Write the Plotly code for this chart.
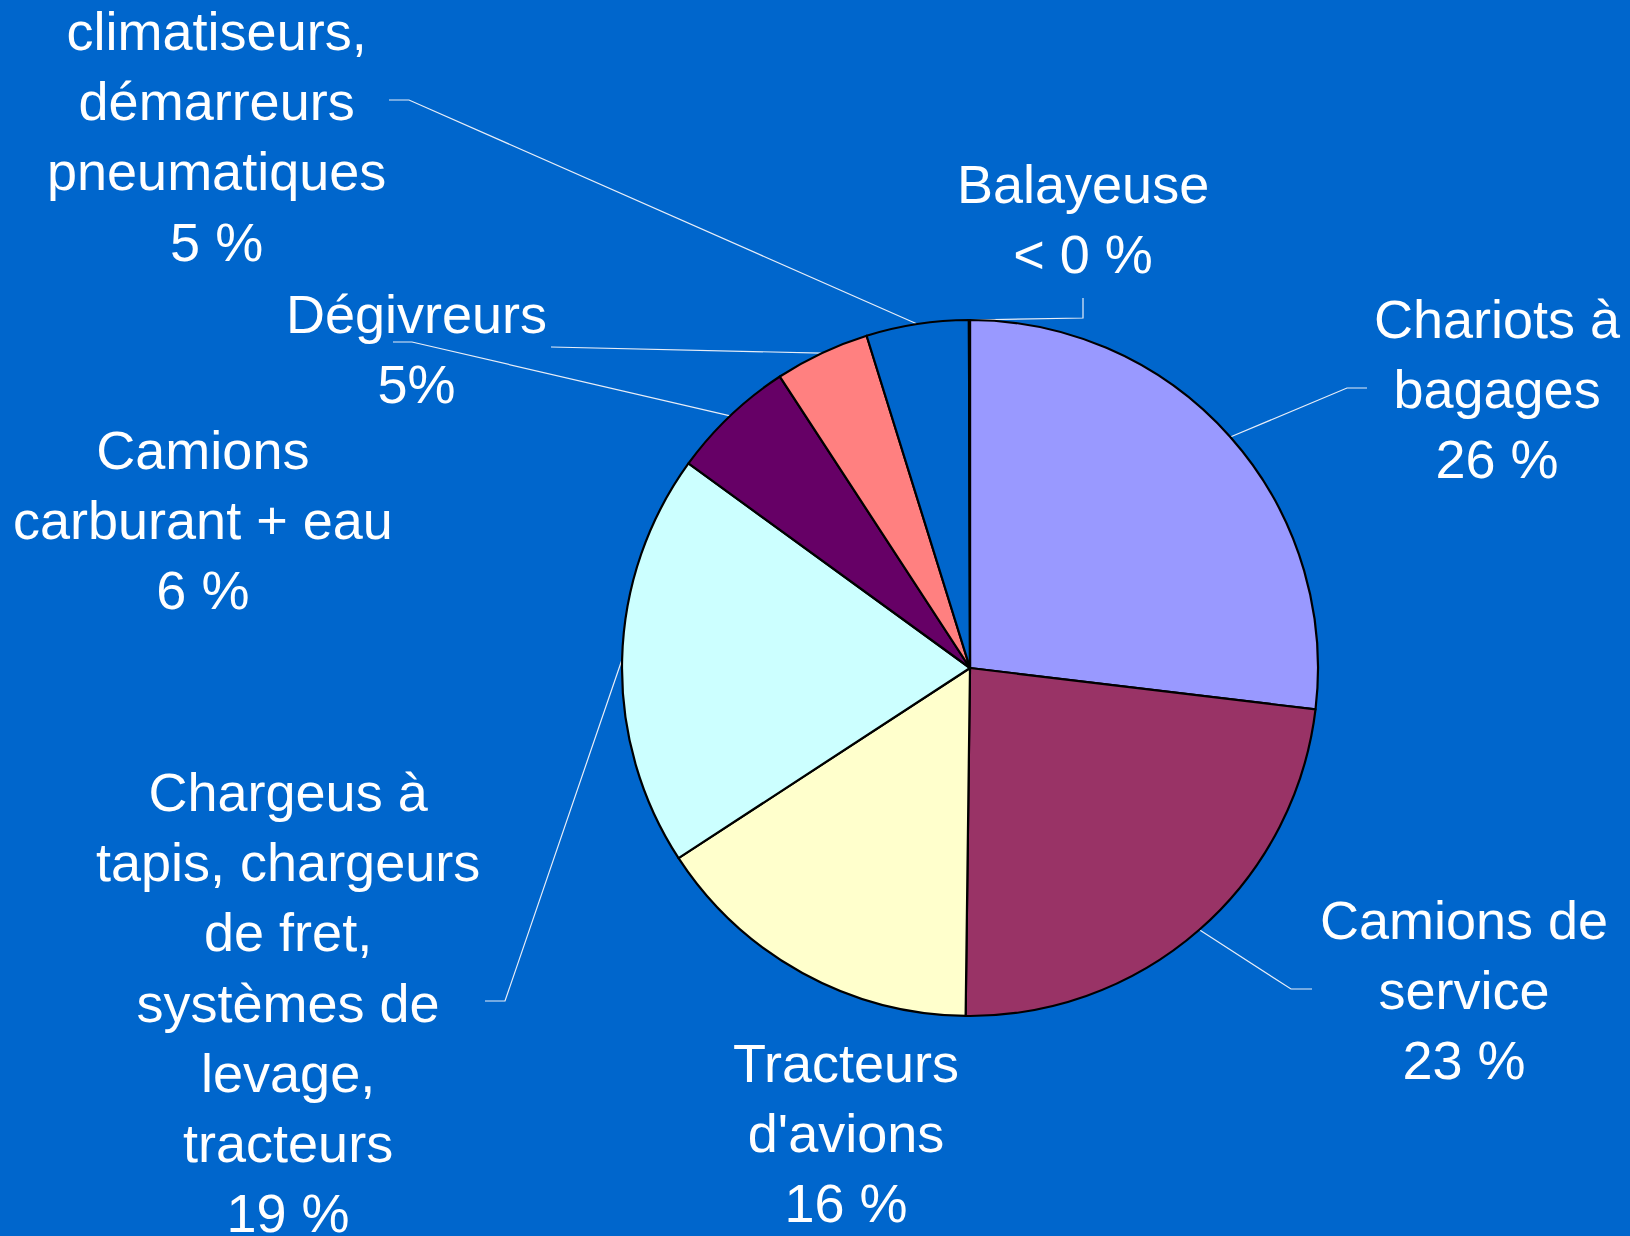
import math
import plotly.graph_objects as go

W, H = 1630, 1236

# ---- data ----
categories = [
    "Chariots à bagages",
    "Camions de service",
    "Tracteurs d'avions",
    "Chargeus à tapis, chargeurs de fret, systèmes de levage, tracteurs",
    "Camions carburant + eau",
    "Dégivreurs",
    "climatiseurs, démarreurs pneumatiques",
    "Balayeuse",
]
values = [26.9, 23.3, 15.6, 19.2, 5.8, 4.4, 4.75, 0.05]
label_texts = [
    "Chariots à<br>bagages<br>26 %",
    "Camions de<br>service<br>23 %",
    "Tracteurs<br>d'avions<br>16 %",
    "Chargeus à<br>tapis, chargeurs<br>de fret,<br>systèmes de<br>levage,<br>tracteurs<br>19 %",
    "Camions<br>carburant + eau<br>6 %",
    "Dégivreurs<br>5%",
    "climatiseurs,<br>démarreurs<br>pneumatiques<br>5 %",
    "Balayeuse<br>< 0 %",
]
colors = ["#9999FF", "#993366", "#FFFFCC", "#CCFFFF", "#660066", "#FF8080", "#0066CC", "#0066CC"]

# ---- layout (pixel positions) ----
BG = "#0066CC"
cx, cy, R = 970, 668, 348
label_pos = [(1497, 389), (1464, 990), (846, 1133), (288, 1002), (203, 520), (416, 349), (216, 136), (1083, 219)]
# leader line elbow points (None = no leader)
leader_elbows = [
    [(1347, 388), (1367, 388)],
    [(1291, 989), (1312, 989)],
    None,
    [(505, 1001), (485, 1001)],
    [(412, 342), (393, 342)],
    [(571, 347), (551, 347)],
    [(409, 100), (389, 100)],
    "top",
]

fig = go.Figure()

fig.add_trace(go.Pie(
    labels=categories,
    values=values,
    sort=False,
    direction="clockwise",
    rotation=0,
    textinfo="none",
    hoverinfo="label+percent",
    marker=dict(colors=colors, line=dict(color="black", width=2.2)),
    showlegend=False,
    domain=dict(x=[(cx - R) / W, (cx + R) / W], y=[(H - cy - R) / H, (H - cy + R) / H]),
))

# leader lines computed from slice mid-angles
total = sum(values)
cum = 0.0
for i, v in enumerate(values):
    start = cum
    cum += v
    mid = (start + cum) / 2 / total * 2 * math.pi
    ex = cx + R * math.sin(mid)
    ey = cy - R * math.cos(mid)
    el = leader_elbows[i]
    if el is None:
        continue
    if el == "top":
        ex, ey = cx + R * math.sin(2 * math.pi * cum / total), cy - R
        pts = [(ex, ey), (label_pos[i][0], ey - 2), (label_pos[i][0], ey - 22)]
    else:
        pts = [(ex, ey)] + el
    fig.add_trace(go.Scatter(
        x=[p[0] for p in pts], y=[p[1] for p in pts],
        mode="lines", line=dict(color="#E8EEF8", width=1.2),
        hoverinfo="skip", showlegend=False,
        xaxis="x", yaxis="y",
    ))

for txt, (lx, ly) in zip(label_texts, label_pos):
    fig.add_annotation(
        x=lx, y=ly, xref="x", yref="y", text=txt, showarrow=False,
        xanchor="center", yanchor="middle", align="center",
        font=dict(family="Liberation Sans, Arial, sans-serif", size=54, color="white"),
    )

fig.update_layout(
    width=W, height=H,
    margin=dict(l=0, r=0, t=0, b=0),
    paper_bgcolor=BG, plot_bgcolor="rgba(0,0,0,0)",
    xaxis=dict(range=[0, W], visible=False, domain=[0, 1], fixedrange=True),
    yaxis=dict(range=[H, 0], visible=False, domain=[0, 1], fixedrange=True),
)

fig.write_html(
    "out.html",
    config={"displayModeBar": False},
    post_script="document.body.style.margin='0';document.body.style.padding='0';"
                "document.body.style.background='#0066CC';document.body.style.overflow='hidden';",
)
